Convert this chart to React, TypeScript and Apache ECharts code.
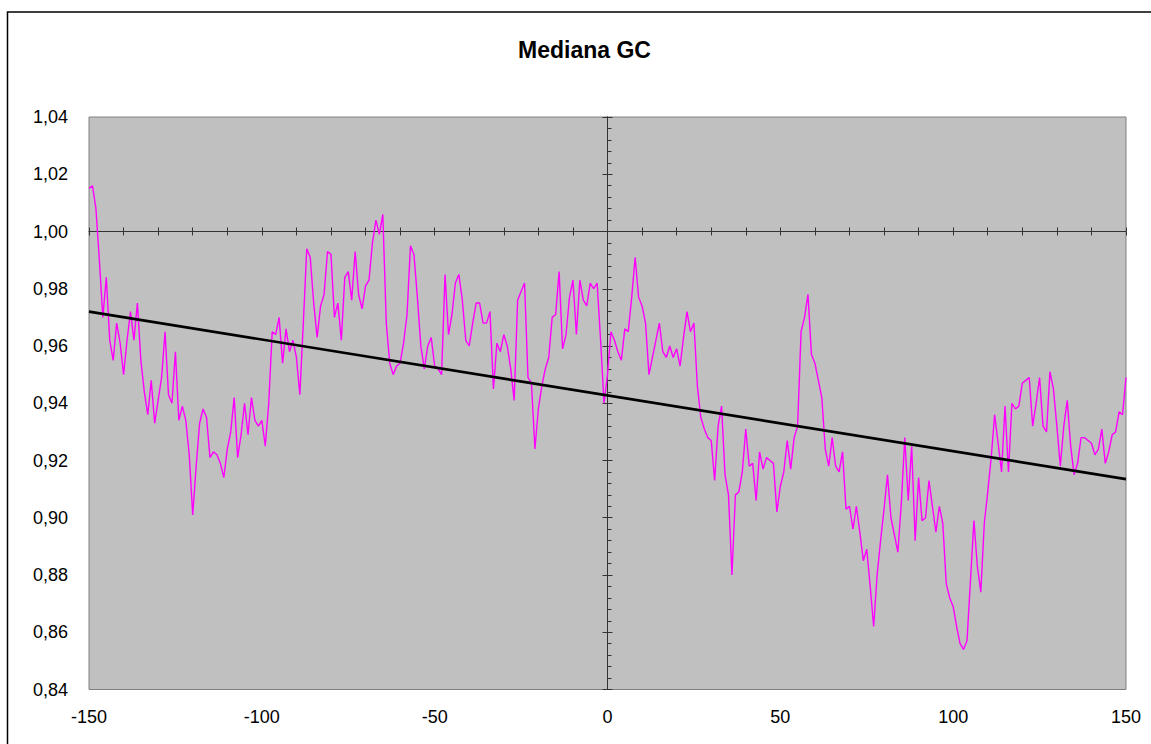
import React, { useEffect, useRef } from "react";
import * as echarts from "echarts";

// x positions (bp offset) run from -150 to 150, one value per unit
const X_MIN = -150;
const X_MAX = 150;
const xTickLabels = [-150, -100, -50, 0, 50, 100, 150];
const yTickLabels = [0.84, 0.86, 0.88, 0.9, 0.92, 0.94, 0.96, 0.98, 1.0, 1.02, 1.04];

// Median GC values
const gcA = [
  1.015, 1.016, 1.008, 0.990, 0.970, 0.984, 0.962, 0.955, 0.968, 0.961,
  0.950, 0.962, 0.972, 0.962, 0.975, 0.955, 0.944, 0.936, 0.948, 0.933,
  0.941, 0.949, 0.965, 0.943, 0.940, 0.958, 0.934, 0.939, 0.934, 0.922,
  0.901, 0.918, 0.933, 0.938, 0.935, 0.921, 0.923, 0.922, 0.919, 0.914,
  0.924, 0.930, 0.942, 0.921, 0.929, 0.940, 0.929, 0.942, 0.934, 0.932,
];
const gcB = [
  0.934, 0.925, 0.940, 0.965, 0.964, 0.970, 0.954, 0.966, 0.958, 0.962,
  0.956, 0.943, 0.968, 0.994, 0.991, 0.975, 0.963, 0.974, 0.978, 0.993,
  0.992, 0.970, 0.975, 0.962, 0.984, 0.986, 0.976, 0.993, 0.978, 0.973,
  0.981, 0.983, 0.996, 1.004, 0.999, 1.006, 0.968, 0.954, 0.950, 0.953,
  0.954, 0.961, 0.971, 0.995, 0.992, 0.977, 0.960, 0.952, 0.960, 0.963,
];
const gcC = [
  0.953, 0.952, 0.950, 0.985, 0.964, 0.971, 0.982, 0.985, 0.976, 0.962,
  0.960, 0.968, 0.975, 0.975, 0.968, 0.968, 0.972, 0.945, 0.961, 0.958,
  0.964, 0.960, 0.952, 0.941, 0.976, 0.979, 0.982, 0.949, 0.947, 0.924,
  0.938, 0.946, 0.952, 0.956, 0.970, 0.971, 0.986, 0.959, 0.964, 0.977,
  0.983, 0.964, 0.983, 0.976, 0.974, 0.982, 0.980, 0.982, 0.962, 0.940,
];
const gcD = [
  0.950, 0.965, 0.962, 0.958, 0.955, 0.966, 0.965, 0.977, 0.991, 0.977,
  0.974, 0.968, 0.950, 0.956, 0.962, 0.968, 0.958, 0.956, 0.960, 0.956,
  0.959, 0.953, 0.963, 0.972, 0.965, 0.968, 0.946, 0.935, 0.931, 0.928,
  0.927, 0.913, 0.932, 0.939, 0.915, 0.908, 0.880, 0.908, 0.909, 0.916,
  0.931, 0.918, 0.919, 0.906, 0.923, 0.917, 0.921, 0.920, 0.919, 0.902,
];
const gcE = [
  0.911, 0.916, 0.927, 0.917, 0.928, 0.932, 0.965, 0.970, 0.978, 0.957,
  0.954, 0.948, 0.942, 0.924, 0.918, 0.928, 0.918, 0.916, 0.923, 0.903,
  0.904, 0.896, 0.904, 0.895, 0.885, 0.889, 0.876, 0.862, 0.880, 0.892,
  0.903, 0.915, 0.900, 0.894, 0.888, 0.905, 0.928, 0.906, 0.925, 0.892,
  0.914, 0.899, 0.900, 0.913, 0.904, 0.895, 0.904, 0.898, 0.877, 0.872,
];
const gcF = [
  0.869, 0.862, 0.856, 0.854, 0.857, 0.878, 0.899, 0.883, 0.874, 0.898,
  0.909, 0.921, 0.936, 0.926, 0.916, 0.939, 0.916, 0.940, 0.938, 0.939,
  0.947, 0.948, 0.949, 0.932, 0.940, 0.949, 0.932, 0.930, 0.951, 0.945,
  0.932, 0.918, 0.932, 0.941, 0.925, 0.915, 0.919, 0.928, 0.928, 0.927,
  0.926, 0.922, 0.924, 0.931, 0.919, 0.923, 0.929, 0.930, 0.937, 0.936,
  0.949,
];

// Linear trend line, end values read at x = -150 and x = 150
const trendX = [-150, 150];
const trendY = [0.972, 0.9135];

const FONT = '"Liberation Sans", Arial, sans-serif';
const GRID = { left: 89, top: 117, width: 1037, height: 572.5 };
const Y_MIN = 0.84;
const Y_MAX = 1.04;
const X_AXIS_CROSS = 1.0;

export default function App() {
  const ref = useRef<HTMLDivElement>(null);

  useEffect(() => {
    if (!ref.current) return;
    const chart = echarts.init(ref.current, null, { renderer: "svg" });
    const values = [...gcA, ...gcB, ...gcC, ...gcD, ...gcE, ...gcF];
    const data = values.map((v, i) => [X_MIN + i, v]);
    const crossOffset = -GRID.height * (X_AXIS_CROSS - Y_MIN) / (Y_MAX - Y_MIN);
    const axisColor = "#333333";

    const xBase = {
      type: "value" as const,
      min: X_MIN,
      max: X_MAX,
      splitLine: { show: false },
    };
    const yBase = {
      type: "value" as const,
      min: Y_MIN,
      max: Y_MAX,
      interval: 0.02,
      splitLine: { show: false },
    };

    chart.setOption({
      animation: false,
      backgroundColor: "#ffffff",
      grid: {
        ...GRID,
        show: true,
        backgroundColor: "#C0C0C0",
        borderColor: "#808080",
        borderWidth: 1,
      },
      graphic: [
        {
          type: "rect",
          silent: true,
          shape: { x: 7.5, y: 12, width: 1400, height: 1000 },
          style: { fill: "none", stroke: "#000000", lineWidth: 1.5 },
        },
        {
          type: "text",
          silent: true,
          x: 584.5,
          y: 49.5,
          style: {
            text: "Mediana GC",
            font: `bold 23px ${FONT}`,
            fill: "#000000",
            align: "center",
            verticalAlign: "middle",
            textAlign: "center",
            textVerticalAlign: "middle",
          },
        },
      ],
      xAxis: [
        {
          ...xBase,
          interval: 50,
          position: "bottom",
          axisLine: { show: false, onZero: false },
          axisTick: { show: false },
          axisLabel: {
            fontSize: 18,
            fontFamily: FONT,
            color: "#000000",
            margin: 18,
            formatter: (v: number) => (xTickLabels.includes(v) ? String(v) : ""),
          },
        },
        {
          ...xBase,
          interval: 10,
          position: "bottom",
          offset: crossOffset,
          axisLine: { show: true, onZero: false, lineStyle: { color: axisColor, width: 1 } },
          axisTick: { show: true, inside: false, length: 4, lineStyle: { color: axisColor } },
          axisLabel: { show: false },
        },
        {
          ...xBase,
          interval: 10,
          position: "bottom",
          offset: crossOffset,
          axisLine: { show: false, onZero: false },
          axisTick: { show: true, inside: true, length: 4, lineStyle: { color: axisColor } },
          axisLabel: { show: false },
        },
      ],
      yAxis: [
        {
          ...yBase,
          position: "left",
          axisLine: { show: true, onZero: true, lineStyle: { color: axisColor, width: 1 } },
          axisTick: { show: true, inside: false, length: 5, lineStyle: { color: axisColor } },
          axisLabel: { show: false },
        },
        {
          ...yBase,
          position: "left",
          axisLine: { show: true, onZero: true, lineStyle: { color: axisColor, width: 1 } },
          axisTick: { show: true, inside: true, length: 5, lineStyle: { color: axisColor } },
          minorTick: { show: true, splitNumber: 5, length: 4, lineStyle: { color: axisColor } },
          axisLabel: { show: false },
        },
        {
          ...yBase,
          position: "left",
          axisLine: { show: false, onZero: false },
          axisTick: { show: false },
          axisLabel: {
            fontSize: 18,
            fontFamily: FONT,
            color: "#000000",
            margin: 21,
            formatter: (v: number) => {
              const hit = yTickLabels.find((t) => Math.abs(t - v) < 1e-6);
              return hit === undefined ? "" : hit.toFixed(2).replace(".", ",");
            },
          },
        },
      ],
      series: [
        {
          name: "Mediana GC",
          type: "line",
          xAxisIndex: 0,
          yAxisIndex: 0,
          data,
          symbol: "none",
          showSymbol: false,
          lineStyle: { color: "#FF00FF", width: 1.4 },
          z: 3,
        },
        {
          name: "Trend",
          type: "line",
          xAxisIndex: 0,
          yAxisIndex: 0,
          data: trendX.map((x, i) => [x, trendY[i]]),
          symbol: "none",
          showSymbol: false,
          lineStyle: { color: "#000000", width: 2.6 },
          z: 4,
        },
      ],
    });

    return () => chart.dispose();
  }, []);

  return (
    <div
      ref={ref}
      style={{ position: "fixed", left: 0, top: 0, width: 1151, height: 744, background: "#fff" }}
    />
  );
}
